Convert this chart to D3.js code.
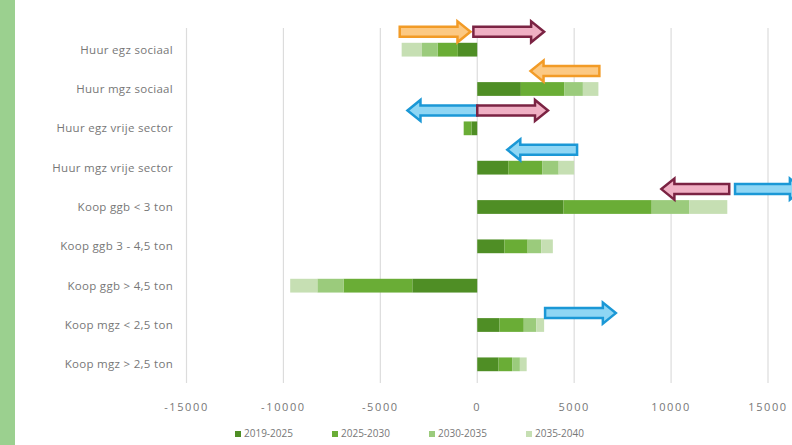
<!DOCTYPE html>
<html>
<head>
<meta charset="utf-8">
<script src="https://cdn.jsdelivr.net/npm/d3@7"></script>
<style>
  body { margin: 0; background: #fff; }
  svg text { font-family: "Open Sans", "Liberation Sans", sans-serif; fill: #777; }
</style>
</head>
<body>
<script>
// chart values
var categories = ["Huur egz sociaal", "Huur mgz sociaal", "Huur egz vrije sector", "Huur mgz vrije sector",
    "Koop ggb < 3 ton", "Koop ggb 3 - 4,5 ton", "Koop ggb > 4,5 ton", "Koop mgz < 2,5 ton", "Koop mgz > 2,5 ton"];
var periods = ["2019-2025", "2025-2030", "2030-2035", "2035-2040"];
var v2019 = [-1000, 2250, -300, 1600, 4450, 1400, -3350, 1150, 1100];
var v2025 = [-1050, 2250, -400, 1750, 4550, 1200, -3550, 1250, 700];
var v2030 = [-800, 950, 0, 850, 1950, 700, -1350, 650, 400];
var v2035 = [-1050, 800, 0, 800, 1950, 600, -1400, 400, 350];
var xTicks = [-15000, -10000, -5000, 0, 5000, 10000, 15000];

// annotation arrows: row, tail value, tip value, colour kind
var arrowRow = [0, 0, 1, 2, 2, 3, 4, 4, 7];
var arrowFrom = [-4000, -200, 6300, 0, 0, 5150, 13000, 13300, 3500];
var arrowTo = [-350, 3450, 2750, -3600, 3650, 1550, 9500, 16800, 7150];
var arrowKind = ["orange", "maroon", "orange", "blue", "maroon", "blue", "maroon", "blue", "blue"];

(function(){
    var width = 792, height = 445;
    var colors = ["#4f8e25", "#6aad36", "#9bcb7c", "#c6dfb3"];
    var arrowStyle = {
        orange: {stroke: "#f29b26", fill: "#fcc983"},
        maroon: {stroke: "#7b2343", fill: "#f0b0c4"},
        blue: {stroke: "#1b98d6", fill: "#8fd6f4"}
    };

    var svg = d3.select("body").append("svg")
        .attr("width", width)
        .attr("height", height);

    // green strip at the left edge
    svg.append("rect").attr("x", 0).attr("y", 0).attr("width", 15).attr("height", height)
        .style("fill", "#9bd08f");

    var x = d3.scaleLinear().domain([-15000, 15000]).range([186.5, 768]);
    var y = d3.scaleBand().domain(categories).range([30, 384])
        .paddingInner(0.65).paddingOuter(0.325);

    // grid
    svg.append("g").selectAll("line")
        .data(xTicks)
        .enter().append("line")
        .attr("x1", d => x(d)).attr("x2", d => x(d))
        .attr("y1", 28).attr("y2", 383)
        .style("stroke", "#dcdcdc").style("stroke-width", 1.2);

    // x tick labels
    svg.append("g").selectAll("text")
        .data(xTicks)
        .enter().append("text")
        .attr("x", d => x(d)).attr("y", 411)
        .attr("text-anchor", "middle")
        .style("font-size", "11px")
        .style("letter-spacing", "1.6px")
        .text(d => d);

    // category labels
    svg.append("g").selectAll("text")
        .data(categories)
        .enter().append("text")
        .attr("x", 173)
        .attr("y", d => y(d) + y.bandwidth() / 2 + 4)
        .attr("text-anchor", "end")
        .style("font-size", "11.5px")
        .style("letter-spacing", "0.3px")
        .text(d => d);

    // stacked bars
    var rows = categories.map((c, i) => ({
        cat: c, "2019-2025": v2019[i], "2025-2030": v2025[i], "2030-2035": v2030[i], "2035-2040": v2035[i]
    }));
    var series = d3.stack().keys(periods).offset(d3.stackOffsetDiverging)(rows);

    svg.append("g").selectAll("g")
        .data(series)
        .enter().append("g")
        .style("fill", (d, i) => colors[i])
        .selectAll("rect")
        .data(d => d)
        .enter().append("rect")
        .attr("x", d => x(Math.min(d[0], d[1])))
        .attr("width", d => Math.abs(x(d[1]) - x(d[0])))
        .attr("y", d => y(d.data.cat))
        .attr("height", y.bandwidth());

    // block arrows
    function arrowPath(x0, x1, cy){
        var dir = x1 > x0 ? 1 : -1,
            head = 13, shaft = 5, wing = 10.5;
        var xb = x1 - dir * head;
        return "M" + x0 + "," + (cy - shaft) +
            "L" + xb + "," + (cy - shaft) +
            "L" + xb + "," + (cy - wing) +
            "L" + x1 + "," + cy +
            "L" + xb + "," + (cy + wing) +
            "L" + xb + "," + (cy + shaft) +
            "L" + x0 + "," + (cy + shaft) + "Z";
    }

    svg.append("g").selectAll("path")
        .data(arrowRow.map((r, i) => ({row: r, from: arrowFrom[i], to: arrowTo[i], kind: arrowKind[i]})))
        .enter().append("path")
        .attr("d", d => {
            var cy = y(categories[d.row]) - (d.row === 7 ? 5 : 11);
            return arrowPath(x(d.from), x(d.to), cy);
        })
        .style("fill", d => arrowStyle[d.kind].fill)
        .style("stroke", d => arrowStyle[d.kind].stroke)
        .style("stroke-width", 2.5)
        .style("stroke-linejoin", "miter");

    // legend
    var legend = svg.append("g").selectAll("g")
        .data(periods)
        .enter().append("g")
        .attr("transform", (d, i) => "translate(" + (235 + i * 97) + ",437)");
    legend.append("rect")
        .attr("x", 0).attr("y", -6).attr("width", 6).attr("height", 6)
        .style("fill", (d, i) => colors[i]);
    legend.append("text")
        .attr("x", 9).attr("y", 0)
        .style("font-size", "10px")
        .text(d => d);
})();
</script>
</body>
</html>
